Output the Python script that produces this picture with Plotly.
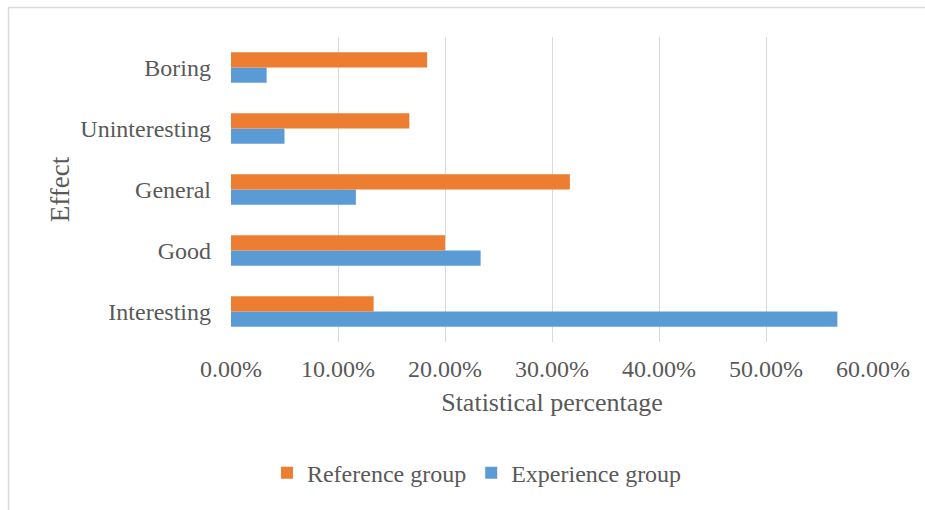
import plotly.graph_objects as go

categories = ["Interesting", "Good", "General", "Uninteresting", "Boring"]
reference_group = [0.1333, 0.2000, 0.3167, 0.1667, 0.1833]
experience_group = [0.5667, 0.2333, 0.1167, 0.0500, 0.0333]
tick_vals = [0, 0.1, 0.2, 0.3, 0.4, 0.5, 0.6]

FONT = "Liberation Serif"
TXT = "#595959"
FS = 24

fig = go.Figure()
fig.add_trace(go.Bar(y=categories, x=experience_group, orientation="h",
                     name="Experience group", marker=dict(color="#5B9BD5", line=dict(width=0))))
fig.add_trace(go.Bar(y=categories, x=reference_group, orientation="h",
                     name="Reference group", marker=dict(color="#ED7D31", line=dict(width=0))))

fig.update_layout(
    width=925, height=510,
    margin=dict(l=231, r=52, t=37, b=168),
    paper_bgcolor="white", plot_bgcolor="white",
    barmode="group", bargap=0.5, bargroupgap=0,
    font=dict(family=FONT, color=TXT, size=FS),
    xaxis=dict(range=[0, 0.6], tickvals=tick_vals, tickformat=".2%",
               showgrid=True, gridcolor="#D9D9D9", gridwidth=1.3,
               zeroline=False, showline=False,
               ticks="outside", ticklen=5, tickcolor="rgba(0,0,0,0)",
               tickfont=dict(size=FS, color=TXT),
               title=dict(text="Statistical percentage", font=dict(size=26, color=TXT), standoff=12)),
    yaxis=dict(showgrid=False, zeroline=False, showline=False, ticks="", ticklabelstandoff=19,
               tickfont=dict(size=FS, color=TXT),
               title=dict(text="Effect", font=dict(size=27, color=TXT), standoff=2)),
    legend=dict(orientation="h", traceorder="reversed", x=0.056, y=-0.43,
                xanchor="left", yanchor="middle", font=dict(size=FS, color=TXT),
                itemwidth=30),
    shapes=[dict(type="rect", xref="paper", yref="paper",
                 x0=(8.5 - 231) / 642, x1=(940 - 231) / 642,
                 y0=(342 - 520) / 305, y1=(342 - 7.5) / 305,
                 line=dict(color="#D9D9D9", width=1.5), fillcolor="rgba(0,0,0,0)", layer="below")],
)

fig.write_html("out.html")
